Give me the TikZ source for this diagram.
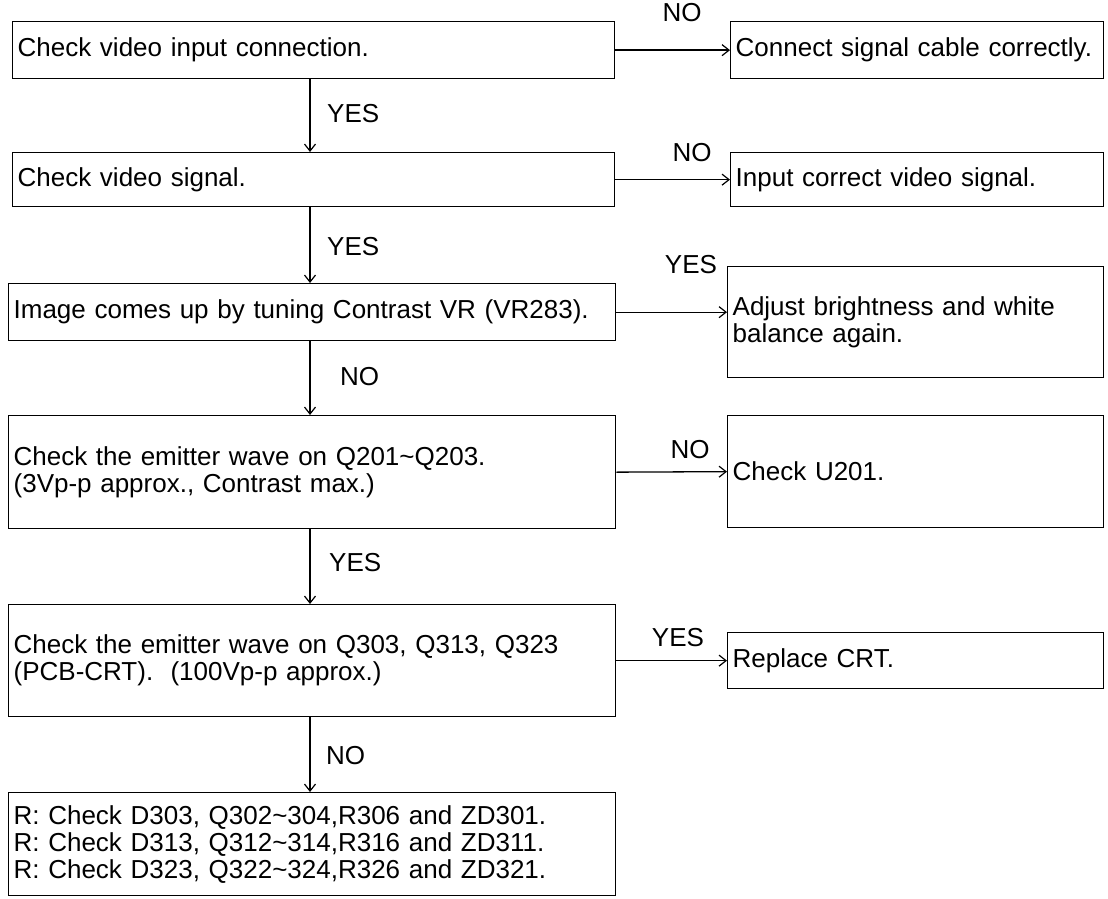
\documentclass[tikz,border=0pt]{standalone}
\usepackage{fontspec}
\setmainfont{Liberation Sans}
\usetikzlibrary{arrows.meta}
\begin{document}
\begin{tikzpicture}[x=1pt,y=-1pt,
  box/.style={draw, line width=1.3pt, anchor=north west, align=left, inner xsep=5pt, inner ysep=0pt, font=\fontsize{26}{27}\selectfont},
  lbl/.style={font=\fontsize{26}{27}\selectfont, inner sep=0pt},
  conn/.style={line width=1.3pt, -{Straight Barb[length=7pt,width=11pt,line width=1.2pt]}}]
\useasboundingbox[fill=white] (0,0) rectangle (1108,899);
\coordinate (ax) at (310,0);
% left column
\node[box, text width=592pt, minimum height=57pt] (b1) at (12,21) {Check video input connection.};
\node[box, text width=592pt, minimum height=54pt] (b2) at (12,152) {Check video signal.};
\node[box, text width=597pt, minimum height=57pt] (b3) at (8,283) {Image comes up by tuning Contrast VR (VR283).};
\node[box, text width=597pt, minimum height=113pt] (b4) at (8,415) {Check the emitter wave on Q201\char`~Q203.\\(3Vp-p approx., Contrast max.)};
\node[box, text width=597pt, minimum height=112pt] (b5) at (8,604) {Check the emitter wave on Q303, Q313, Q323\\(PCB-CRT).\ \ (100Vp-p approx.)};
\node[box, text width=597pt, minimum height=103pt] (b6) at (8,792) {R: Check D303, Q302\char`~304,R306 and ZD301.\\R: Check D313, Q312\char`~314,R316 and ZD311.\\R: Check D323, Q322\char`~324,R326 and ZD321.};
% right column
\node[box, text width=363pt, minimum height=57pt] (r1) at (730,21) {Connect signal cable correctly.};
\node[box, text width=363pt, minimum height=54pt] (r2) at (730,152) {Input correct video signal.};
\node[box, text width=366pt, minimum height=111pt] (r3) at (727,266) {Adjust brightness and white\\balance again.};
\node[box, text width=366pt, minimum height=112pt] (r4) at (727,415) {Check U201.};
\node[box, text width=366pt, minimum height=56pt] (r5) at (727,632) {Replace CRT.};
% horizontal connectors
\draw[conn] (b1.east) -- (r1.west);
\draw[conn] (b2.east) -- (r2.west);
\draw[conn] (b3.east) -- (b3.east -| r3.west);
\draw[conn] (b4.east) -- (r4.west);
\draw[conn] (b5.east) -- (r5.west);
\node[lbl] (n1) at (682,13) {NO};
\node[lbl] (n2) at (692,153) {NO};
\node[lbl] (y3) at (691,265) {YES};
\node[lbl] (n4) at (690,450) {NO};
\node[lbl] (y5) at (678,638) {YES};
% vertical connectors
\draw[conn] (ax |- b1.south) -- (ax |- b2.north);
\draw[conn] (ax |- b2.south) -- (ax |- b3.north);
\draw[conn] (ax |- b3.south) -- (ax |- b4.north);
\draw[conn] (ax |- b4.south) -- (ax |- b5.north);
\draw[conn] (ax |- b5.south) -- (ax |- b6.north);
\node[lbl, anchor=west] (v1) at (327,114) {YES};
\node[lbl, anchor=west] (v2) at (327,247) {YES};
\node[lbl, anchor=west] (v3) at (340,377) {NO};
\node[lbl, anchor=west] (v4) at (329,563) {YES};
\node[lbl, anchor=west] (v5) at (326,756) {NO};
\end{tikzpicture}
\end{document}
